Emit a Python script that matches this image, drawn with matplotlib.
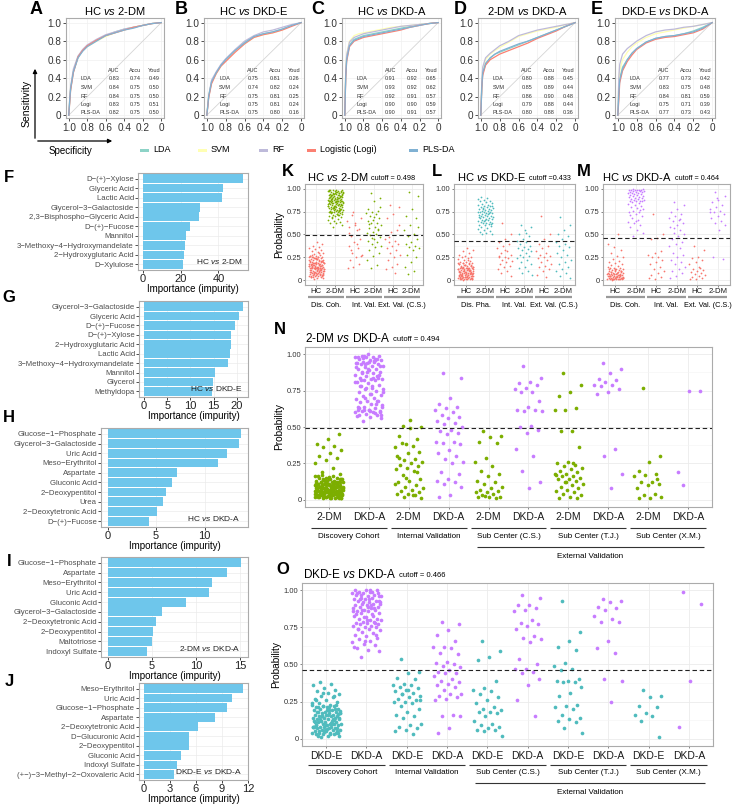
import numpy as np
import matplotlib
matplotlib.use("Agg")
import matplotlib.pyplot as plt
from matplotlib import transforms
from matplotlib.patches import Rectangle, FancyArrowPatch

plt.rcParams['font.family'] = ['Liberation Sans', 'DejaVu Sans']
plt.rcParams['mathtext.fontset'] = 'custom'
plt.rcParams['mathtext.rm'] = 'Liberation Sans'
plt.rcParams['mathtext.it'] = 'Liberation Sans:italic'

# --- ROC data (sensitivity read at fixed specificity values) ---
models = ["LDA", "SVM", "RF", "Logistic (Logi)", "PLS-DA"]
model_short = ["LDA", "SVM", "RF", "Logi", "PLS-DA"]
model_colors = ["#8DD3C7", "#FFFFB3", "#BEBADA", "#FB8072", "#80B1D3"]
spec_grid = [1.0, 0.99, 0.98, 0.95, 0.9, 0.85, 0.8, 0.7, 0.6, 0.5, 0.4, 0.3, 0.2, 0.1, 0.0]

roc_a = [[0, 0.15, 0.28, 0.47, 0.62, 0.70, 0.75, 0.81, 0.86, 0.90, 0.93, 0.95, 0.97, 0.99, 1.0],
         [0, 0.17, 0.30, 0.48, 0.63, 0.70, 0.74, 0.80, 0.85, 0.89, 0.92, 0.95, 0.97, 0.99, 1.0],
         [0, 0.18, 0.31, 0.50, 0.64, 0.71, 0.76, 0.82, 0.87, 0.90, 0.93, 0.95, 0.97, 0.99, 1.0],
         [0, 0.13, 0.27, 0.46, 0.63, 0.70, 0.75, 0.81, 0.86, 0.89, 0.92, 0.95, 0.97, 0.99, 1.0],
         [0, 0.16, 0.29, 0.47, 0.62, 0.69, 0.74, 0.80, 0.86, 0.89, 0.92, 0.94, 0.97, 0.99, 1.0]]
roc_b = [[0, 0.10, 0.20, 0.36, 0.46, 0.54, 0.60, 0.70, 0.79, 0.85, 0.88, 0.90, 0.93, 0.97, 1.0],
         [0, 0.12, 0.22, 0.35, 0.45, 0.53, 0.59, 0.69, 0.77, 0.84, 0.87, 0.89, 0.92, 0.97, 1.0],
         [0, 0.11, 0.21, 0.38, 0.47, 0.55, 0.61, 0.71, 0.80, 0.86, 0.90, 0.92, 0.95, 0.98, 1.0],
         [0, 0.09, 0.19, 0.34, 0.45, 0.53, 0.58, 0.68, 0.77, 0.84, 0.87, 0.89, 0.92, 0.96, 1.0],
         [0, 0.10, 0.21, 0.36, 0.46, 0.54, 0.60, 0.70, 0.78, 0.85, 0.88, 0.90, 0.93, 0.97, 1.0]]
roc_c = [[0, 0.45, 0.62, 0.76, 0.82, 0.84, 0.86, 0.88, 0.90, 0.92, 0.94, 0.96, 0.98, 0.99, 1.0],
         [0, 0.50, 0.66, 0.80, 0.86, 0.88, 0.89, 0.91, 0.93, 0.95, 0.96, 0.97, 0.98, 0.99, 1.0],
         [0, 0.48, 0.65, 0.79, 0.84, 0.86, 0.88, 0.90, 0.92, 0.94, 0.96, 0.97, 0.98, 0.99, 1.0],
         [0, 0.40, 0.58, 0.74, 0.80, 0.82, 0.84, 0.86, 0.88, 0.90, 0.92, 0.95, 0.97, 0.99, 1.0],
         [0, 0.42, 0.60, 0.75, 0.81, 0.83, 0.85, 0.87, 0.89, 0.91, 0.93, 0.95, 0.97, 0.99, 1.0]]
roc_d = [[0, 0.30, 0.45, 0.55, 0.62, 0.66, 0.68, 0.72, 0.76, 0.80, 0.84, 0.88, 0.92, 0.96, 1.0],
         [0, 0.35, 0.50, 0.60, 0.66, 0.70, 0.73, 0.79, 0.85, 0.88, 0.91, 0.93, 0.95, 0.98, 1.0],
         [0, 0.36, 0.52, 0.62, 0.67, 0.71, 0.75, 0.80, 0.86, 0.89, 0.92, 0.94, 0.96, 0.98, 1.0],
         [0, 0.28, 0.43, 0.54, 0.60, 0.63, 0.66, 0.70, 0.74, 0.78, 0.83, 0.87, 0.91, 0.96, 1.0],
         [0, 0.30, 0.46, 0.56, 0.62, 0.66, 0.69, 0.73, 0.77, 0.80, 0.84, 0.88, 0.92, 0.96, 1.0]]
roc_e = [[0, 0.25, 0.40, 0.52, 0.60, 0.67, 0.72, 0.79, 0.83, 0.85, 0.86, 0.88, 0.91, 0.95, 1.0],
         [0, 0.35, 0.48, 0.60, 0.68, 0.74, 0.78, 0.84, 0.88, 0.90, 0.92, 0.94, 0.96, 0.98, 1.0],
         [0, 0.40, 0.55, 0.66, 0.72, 0.76, 0.80, 0.86, 0.90, 0.92, 0.93, 0.95, 0.96, 0.98, 1.0],
         [0, 0.15, 0.35, 0.48, 0.58, 0.65, 0.71, 0.78, 0.82, 0.84, 0.85, 0.87, 0.89, 0.93, 1.0],
         [0, 0.22, 0.38, 0.50, 0.60, 0.67, 0.72, 0.79, 0.83, 0.85, 0.86, 0.88, 0.90, 0.94, 1.0]]

# AUC, Accu, Youd per model
metrics_a = [[0.83, 0.74, 0.49], [0.84, 0.75, 0.50], [0.84, 0.75, 0.50], [0.83, 0.75, 0.51], [0.82, 0.75, 0.50]]
metrics_b = [[0.75, 0.81, 0.26], [0.74, 0.82, 0.24], [0.75, 0.81, 0.25], [0.75, 0.81, 0.24], [0.75, 0.80, 0.16]]
metrics_c = [[0.91, 0.92, 0.65], [0.93, 0.92, 0.62], [0.92, 0.91, 0.57], [0.90, 0.90, 0.59], [0.90, 0.91, 0.57]]
metrics_d = [[0.80, 0.88, 0.45], [0.85, 0.89, 0.44], [0.86, 0.90, 0.48], [0.79, 0.88, 0.44], [0.80, 0.88, 0.36]]
metrics_e = [[0.77, 0.73, 0.42], [0.83, 0.75, 0.48], [0.84, 0.81, 0.59], [0.75, 0.71, 0.39], [0.77, 0.73, 0.43]]

# --- feature importance ---
feat_f = ["D\u2212(+)\u2212Xylose", "Glyceric Acid", "Lactic Acid", "Glycerol\u22123\u2212Galactoside",
          "2,3\u2212Bisphospho\u2212Glyceric Acid", "D\u2212(+)\u2212Fucose", "Mannitol",
          "3\u2212Methoxy\u22124\u2212Hydroxymandelate", "2\u2212Hydroxyglutaric Acid", "D\u2212Xylulose"]
imp_f = [53, 42.5, 42, 30, 29.5, 25, 23, 22.5, 21.5, 21]
feat_g = ["Glycerol\u22123\u2212Galactoside", "Glyceric Acid", "D\u2212(+)\u2212Fucose", "D\u2212(+)\u2212Xylose",
          "2\u2212Hydroxyglutaric Acid", "Lactic Acid", "3\u2212Methoxy\u22124\u2212Hydroxymandelate",
          "Mannitol", "Glycerol", "Methyldopa"]
imp_g = [21.3, 20.4, 19.6, 18.8, 18.7, 18.6, 18.1, 15.3, 14.8, 14.6]
feat_h = ["Glucose\u22121\u2212Phosphate", "Glycerol\u22123\u2212Galactoside", "Uric Acid", "Meso\u2212Erythritol",
          "Aspartate", "Gluconic Acid", "2\u2212Deoxypentitol", "Urea", "2\u2212Deoxytetronic Acid",
          "D\u2212(+)\u2212Fucose"]
imp_h = [13.8, 13.6, 12.3, 11.4, 7.2, 6.6, 6.0, 5.7, 5.1, 4.3]
feat_i = ["Glucose\u22121\u2212Phosphate", "Aspartate", "Meso\u2212Erythritol", "Uric Acid", "Gluconic Acid",
          "Glycerol\u22123\u2212Galactoside", "2\u2212Deoxytetronic Acid", "2\u2212Deoxypentitol",
          "Maltotriose", "Indoxyl Sulfate"]
imp_i = [15.1, 13.5, 11.8, 11.5, 8.8, 6.1, 5.5, 5.1, 5.0, 4.4]
feat_j = ["Meso\u2212Erythritol", "Uric Acid", "Glucose\u22121\u2212Phosphate", "Aspartate",
          "2\u2212Deoxytetronic Acid", "D\u2212Glucuronic Acid", "2\u2212Deoxypentitol", "Gluconic Acid",
          "Indoxyl Sulfate", "(+\u2212)\u22123\u2212Methyl\u22122\u2212Oxovaleric Acid"]
imp_j = [11.4, 10.2, 9.6, 8.2, 6.2, 5.2, 5.2, 4.3, 3.8, 3.5]

# --- predicted probabilities, K: HC vs 2-DM ---
k_cats = ["HC", "2-DM", "HC", "2-DM", "HC", "2-DM"]
k_groups_names = ["Dis. Coh.", "Int. Val.", "Ext. Val. (C.S.)"]
k1 = [0.02, 0.03, 0.03, 0.04, 0.04, 0.05, 0.05, 0.05, 0.06, 0.06, 0.06, 0.07, 0.07, 0.07, 0.08, 0.08, 0.08,
      0.09, 0.09, 0.09, 0.10, 0.10, 0.10, 0.11, 0.11, 0.11, 0.12, 0.12, 0.12, 0.13, 0.13, 0.13, 0.14, 0.14,
      0.14, 0.15, 0.15, 0.15, 0.16, 0.16, 0.16, 0.17, 0.17, 0.17, 0.18, 0.18, 0.18, 0.19, 0.19, 0.19, 0.20,
      0.20, 0.20, 0.21, 0.21, 0.22, 0.22, 0.23, 0.23, 0.24, 0.24, 0.25, 0.25, 0.26, 0.26, 0.27, 0.27, 0.28,
      0.29, 0.30, 0.31, 0.32, 0.33, 0.34, 0.35, 0.36, 0.38, 0.40, 0.42, 0.045, 0.065, 0.085, 0.105, 0.125,
      0.145, 0.165, 0.185, 0.205, 0.225, 0.245, 0.055, 0.075, 0.095, 0.115, 0.135, 0.155, 0.175, 0.195,
      0.215, 0.235, 0.035, 0.06, 0.09, 0.12, 0.15, 0.18, 0.21, 0.24, 0.27, 0.30, 0.04, 0.07, 0.10, 0.13,
      0.16, 0.19, 0.22, 0.25, 0.28, 0.05, 0.08, 0.11, 0.14, 0.17, 0.20, 0.23, 0.26, 0.12, 0.15, 0.18, 0.09,
      0.06, 0.21, 0.14, 0.17, 0.11, 0.08, 0.19, 0.13, 0.16]
k2 = [0.58, 0.60, 0.62, 0.63, 0.64, 0.65, 0.66, 0.67, 0.68, 0.69, 0.70, 0.70, 0.71, 0.71, 0.72, 0.72, 0.73,
      0.73, 0.74, 0.74, 0.75, 0.75, 0.75, 0.76, 0.76, 0.76, 0.77, 0.77, 0.77, 0.78, 0.78, 0.78, 0.79, 0.79,
      0.79, 0.80, 0.80, 0.80, 0.81, 0.81, 0.81, 0.82, 0.82, 0.82, 0.83, 0.83, 0.83, 0.84, 0.84, 0.84, 0.85,
      0.85, 0.85, 0.86, 0.86, 0.86, 0.87, 0.87, 0.87, 0.88, 0.88, 0.88, 0.89, 0.89, 0.89, 0.90, 0.90, 0.90,
      0.91, 0.91, 0.91, 0.92, 0.92, 0.92, 0.93, 0.93, 0.93, 0.94, 0.94, 0.94, 0.95, 0.95, 0.95, 0.96, 0.96,
      0.96, 0.97, 0.97, 0.97, 0.98, 0.98, 0.99, 0.99, 0.765, 0.785, 0.805, 0.825, 0.845, 0.865, 0.885, 0.905,
      0.925, 0.945, 0.965, 0.72, 0.75, 0.78, 0.81, 0.84, 0.87, 0.90, 0.93, 0.96, 0.74, 0.77, 0.80, 0.83,
      0.86, 0.89, 0.92, 0.95, 0.98, 0.76, 0.79, 0.82, 0.85, 0.88, 0.91, 0.94, 0.97, 0.71, 0.69, 0.83, 0.87,
      0.91, 0.95, 0.79, 0.85, 0.89, 0.93, 0.97, 0.81, 0.86, 0.90]
k3 = [0.71, 0.68, 0.62, 0.58, 0.56, 0.75, 0.65, 0.55, 0.48, 0.45, 0.42, 0.38, 0.35, 0.30, 0.28, 0.25, 0.22,
      0.18, 0.15, 0.14, 0.40, 0.33, 0.27, 0.60, 0.52]
k4 = [0.95, 0.90, 0.86, 0.78, 0.76, 0.75, 0.73, 0.72, 0.70, 0.68, 0.66, 0.65, 0.63, 0.62, 0.60, 0.58, 0.57,
      0.55, 0.53, 0.52, 0.50, 0.49, 0.47, 0.45, 0.43, 0.42, 0.40, 0.38, 0.36, 0.33, 0.30, 0.27, 0.22, 0.17,
      0.13, 0.80, 0.69, 0.61, 0.56, 0.46]
k5 = [0.82, 0.80, 0.72, 0.68, 0.55, 0.53, 0.45, 0.43, 0.42, 0.40, 0.38, 0.35, 0.33, 0.30, 0.28, 0.25, 0.22,
      0.18, 0.15, 0.12, 0.08, 0.47, 0.60]
k6 = [0.96, 0.92, 0.78, 0.70, 0.68, 0.60, 0.55, 0.50, 0.48, 0.45, 0.42, 0.40, 0.38, 0.36, 0.35, 0.33, 0.28,
      0.25, 0.20, 0.15, 0.10, 0.07, 0.58]

# --- L: HC vs DKD-E ---
l_groups_names = ["Dis. Pha.", "Int. Val.", "Ext. Val. (C.S.)"]
l1 = [0.00, 0.01, 0.01, 0.02, 0.02, 0.02, 0.03, 0.03, 0.03, 0.03, 0.04, 0.04, 0.04, 0.04, 0.05, 0.05, 0.05,
      0.05, 0.06, 0.06, 0.06, 0.06, 0.07, 0.07, 0.07, 0.07, 0.08, 0.08, 0.08, 0.08, 0.09, 0.09, 0.09, 0.10,
      0.10, 0.10, 0.11, 0.11, 0.11, 0.12, 0.12, 0.12, 0.13, 0.13, 0.13, 0.14, 0.14, 0.15, 0.15, 0.16, 0.16,
      0.17, 0.17, 0.18, 0.18, 0.19, 0.19, 0.20, 0.20, 0.21, 0.22, 0.23, 0.24, 0.25, 0.26, 0.27, 0.28, 0.30,
      0.32, 0.33, 0.35, 0.015, 0.025, 0.035, 0.045, 0.055, 0.065, 0.075, 0.085, 0.095, 0.105, 0.115, 0.125,
      0.135, 0.145, 0.155, 0.165, 0.175, 0.185, 0.195, 0.02, 0.04, 0.06, 0.08, 0.10, 0.12, 0.14, 0.03, 0.05,
      0.07, 0.09, 0.11, 0.13, 0.15, 0.01, 0.06, 0.08, 0.04, 0.10, 0.12, 0.05, 0.07, 0.09, 0.03, 0.11, 0.17,
      0.19, 0.22, 0.14, 0.16]
l2 = [0.50, 0.51, 0.52, 0.53, 0.54, 0.55, 0.56, 0.57, 0.58, 0.59, 0.60, 0.60, 0.61, 0.62, 0.62, 0.63, 0.64,
      0.64, 0.65, 0.65, 0.66, 0.66, 0.67, 0.67, 0.68, 0.68, 0.69, 0.69, 0.70, 0.70, 0.70, 0.71, 0.71, 0.72,
      0.72, 0.73, 0.73, 0.74, 0.74, 0.75, 0.75, 0.76, 0.76, 0.77, 0.77, 0.78, 0.78, 0.79, 0.79, 0.80, 0.80,
      0.81, 0.81, 0.82, 0.82, 0.83, 0.84, 0.85, 0.86, 0.87, 0.88, 0.89, 0.90, 0.91, 0.615, 0.655, 0.695,
      0.735, 0.775, 0.815]
l3 = [0.62, 0.50, 0.45, 0.42, 0.40, 0.38, 0.35, 0.32, 0.30, 0.28, 0.26, 0.25, 0.24, 0.22, 0.21, 0.20, 0.18,
      0.16, 0.15, 0.12, 0.10, 0.08, 0.05, 0.33, 0.27]
l4 = [0.60, 0.58, 0.55, 0.50, 0.48, 0.45, 0.43, 0.42, 0.40, 0.38, 0.36, 0.35, 0.34, 0.33, 0.32, 0.30, 0.28,
      0.27, 0.25, 0.24, 0.22, 0.20, 0.18, 0.15, 0.13, 0.10, 0.08, 0.06, 0.52]
l5 = [0.70, 0.50, 0.45, 0.40, 0.38, 0.35, 0.32, 0.30, 0.28, 0.27, 0.25, 0.24, 0.22, 0.20, 0.18, 0.16, 0.15,
      0.12, 0.10, 0.06, 0.04]
l6 = [0.69, 0.60, 0.55, 0.50, 0.48, 0.45, 0.42, 0.40, 0.38, 0.36, 0.33, 0.30, 0.28, 0.25, 0.22, 0.20, 0.18,
      0.15, 0.12, 0.10, 0.08, 0.05, 0.03]

# --- M: HC vs DKD-A ---
m_groups_names = ["Dis. Coh.", "Int. Val.", "Ext. Val. (C.S.)"]
m1 = [0.00, 0.01, 0.01, 0.01, 0.02, 0.02, 0.02, 0.02, 0.03, 0.03, 0.03, 0.03, 0.04, 0.04, 0.04, 0.04, 0.05,
      0.05, 0.05, 0.05, 0.06, 0.06, 0.06, 0.07, 0.07, 0.07, 0.08, 0.08, 0.08, 0.09, 0.09, 0.10, 0.10, 0.11,
      0.11, 0.12, 0.12, 0.13, 0.13, 0.14, 0.15, 0.16, 0.17, 0.18, 0.19, 0.20, 0.21, 0.23, 0.25, 0.27, 0.30,
      0.33, 0.36, 0.40, 0.50, 0.015, 0.025, 0.035, 0.045, 0.055, 0.065, 0.075, 0.085, 0.095, 0.105, 0.115,
      0.125, 0.01, 0.02, 0.03, 0.04, 0.05, 0.06, 0.07, 0.08, 0.09, 0.02, 0.03, 0.04, 0.05, 0.06, 0.01, 0.03,
      0.05, 0.07, 0.10, 0.12]
m2 = [0.48, 0.52, 0.55, 0.58, 0.60, 0.62, 0.64, 0.66, 0.68, 0.70, 0.72, 0.74, 0.75, 0.76, 0.78, 0.79, 0.80,
      0.81, 0.82, 0.83, 0.84, 0.85, 0.86, 0.86, 0.87, 0.87, 0.88, 0.88, 0.89, 0.89, 0.90, 0.90, 0.91, 0.91,
      0.92, 0.92, 0.93, 0.93, 0.94, 0.94, 0.95, 0.95, 0.95, 0.96, 0.96, 0.96, 0.97, 0.97, 0.97, 0.98, 0.98,
      0.98, 0.99, 0.99, 0.99, 1.00, 1.00, 0.65, 0.71, 0.77]
m3 = [0.72, 0.50, 0.46, 0.45, 0.32, 0.30, 0.28, 0.26, 0.25, 0.22, 0.20, 0.18, 0.15, 0.12, 0.10, 0.08, 0.06,
      0.04, 0.02, 0.03]
m4 = [0.85, 0.82, 0.78, 0.75, 0.72, 0.70, 0.68, 0.66, 0.65, 0.62, 0.60, 0.58, 0.55, 0.52, 0.50, 0.48, 0.45,
      0.42, 0.40, 0.38, 0.35, 0.30, 0.28, 0.25, 0.22, 0.20, 0.18, 0.15, 0.12, 0.10, 0.08, 0.05, 0.03, 0.67,
      0.57]
m5 = [0.37, 0.33, 0.25, 0.24, 0.22, 0.20, 0.18, 0.15, 0.12, 0.11, 0.10, 0.09, 0.08, 0.07, 0.06, 0.05, 0.04,
      0.03, 0.02, 0.01, 0.13]
m6 = [0.96, 0.92, 0.88, 0.85, 0.82, 0.80, 0.78, 0.76, 0.75, 0.72, 0.70, 0.68, 0.65, 0.62, 0.60, 0.55, 0.25,
      0.23, 0.90, 0.74]

# --- N: 2-DM vs DKD-A ---
n_cats = ["2-DM", "DKD-A"] * 5
big_groups_names = ["Discovery Cohort", "Internal Validation", "Sub Center (C.S.)",
                    "Sub Center (T.J.)", "Sub Center (X.M.)"]
n1 = [0.01, 0.01, 0.01, 0.02, 0.02, 0.02, 0.02, 0.03, 0.03, 0.03, 0.03, 0.03, 0.04, 0.04, 0.04, 0.04, 0.04,
      0.05, 0.05, 0.05, 0.05, 0.05, 0.06, 0.06, 0.06, 0.06, 0.06, 0.07, 0.07, 0.07, 0.07, 0.07, 0.08, 0.08,
      0.08, 0.08, 0.09, 0.09, 0.09, 0.09, 0.10, 0.10, 0.10, 0.10, 0.11, 0.11, 0.11, 0.11, 0.12, 0.12, 0.12,
      0.12, 0.13, 0.13, 0.13, 0.14, 0.14, 0.14, 0.15, 0.15, 0.15, 0.16, 0.16, 0.17, 0.015, 0.025, 0.035,
      0.045, 0.055, 0.065, 0.075, 0.085, 0.095, 0.105, 0.115, 0.125, 0.135, 0.145, 0.155, 0.02, 0.04, 0.06,
      0.08, 0.10, 0.12, 0.03, 0.05, 0.07, 0.09, 0.11, 0.01, 0.02, 0.03, 0.04, 0.05, 0.06, 0.07, 0.08, 0.09,
      0.10, 0.11, 0.12, 0.13, 0.14, 0.015, 0.035, 0.055, 0.075, 0.095, 0.115, 0.025, 0.045, 0.065, 0.085,
      0.105, 0.02, 0.04, 0.06, 0.08, 0.03, 0.05, 0.07, 0.01, 0.02, 0.03, 0.04, 0.05, 0.06, 0.07, 0.08, 0.09,
      0.10, 0.12, 0.14, 0.16, 0.045, 0.065, 0.085, 0.035, 0.055,
      0.45, 0.42, 0.38, 0.37, 0.36, 0.34, 0.32, 0.30, 0.29, 0.27, 0.25, 0.22, 0.19, 0.18]
n2 = [0.54, 0.56, 0.57, 0.58, 0.58, 0.59, 0.60, 0.60, 0.61, 0.61, 0.62, 0.62, 0.63, 0.64, 0.65, 0.66, 0.67,
      0.68, 0.68, 0.69, 0.70, 0.71, 0.72, 0.73, 0.74, 0.75, 0.76, 0.76, 0.77, 0.78, 0.79, 0.80, 0.81, 0.82,
      0.82, 0.83, 0.83, 0.84, 0.85, 0.85, 0.86, 0.87, 0.87, 0.88, 0.89, 0.90, 0.90, 0.91, 0.92, 0.92, 0.93,
      0.93, 0.94, 0.94, 0.95, 0.95, 0.96, 0.96, 0.97, 0.97, 0.98, 0.98, 0.98, 0.99, 0.99, 1.00, 0.575, 0.595,
      0.615, 0.635, 0.725, 0.785, 0.835, 0.875, 0.915, 0.955, 0.975, 0.60, 0.62, 0.64, 0.66, 0.70, 0.74,
      0.78, 0.82, 0.86, 0.90, 0.94, 0.97, 0.99, 0.58, 0.61, 0.63, 0.68, 0.77, 0.81, 0.84, 0.88, 0.92, 0.95,
      0.98, 0.96, 0.93]
n3 = [0.51, 0.50, 0.55, 0.44, 0.42, 0.38, 0.36, 0.37, 0.39, 0.33, 0.32, 0.30, 0.28, 0.27, 0.26, 0.25, 0.24,
      0.23, 0.22, 0.21, 0.20, 0.17, 0.14, 0.13, 0.12, 0.10, 0.09, 0.08, 0.07, 0.06, 0.05, 0.04, 0.04, 0.03,
      0.02, 0.01, 0.49, 0.29, 0.19, 0.15, 0.11, 0.035]
n4 = [0.87, 0.84, 0.70, 0.66, 0.64, 0.63, 0.62, 0.60, 0.58, 0.57, 0.56, 0.54, 0.53, 0.52, 0.50, 0.48, 0.47,
      0.46, 0.45, 0.40, 0.40, 0.39, 0.38, 0.34, 0.32, 0.30, 0.28, 0.26, 0.25, 0.19, 0.18, 0.14, 0.13, 0.12,
      0.11, 0.09, 0.03, 0.02]
n5 = [0.47, 0.44, 0.43, 0.40, 0.39, 0.29, 0.26, 0.23, 0.20, 0.18, 0.16, 0.13, 0.12, 0.11, 0.09, 0.08, 0.07,
      0.06, 0.05, 0.05, 0.04, 0.03, 0.02, 0.02, 0.02, 0.015, 0.025]
n6 = [0.92, 0.84, 0.81, 0.80, 0.79, 0.77, 0.76, 0.74, 0.74, 0.68, 0.64, 0.62, 0.62, 0.61, 0.61, 0.51, 0.50,
      0.48, 0.46, 0.35, 0.30, 0.20, 0.12, 0.08]
n7 = [0.87, 0.79, 0.74, 0.71, 0.63, 0.62, 0.62, 0.47, 0.47, 0.36, 0.26, 0.25, 0.24, 0.23, 0.22, 0.21, 0.20,
      0.19, 0.18, 0.17, 0.16, 0.16, 0.15, 0.14, 0.14, 0.13, 0.12, 0.11, 0.10, 0.09, 0.08, 0.07, 0.06, 0.05,
      0.04, 0.03, 0.02, 0.01, 0.01, 0.12, 0.18, 0.25]
n8 = [0.94, 0.90, 0.87, 0.83, 0.82, 0.81, 0.79, 0.79, 0.78, 0.76, 0.74, 0.73, 0.35, 0.30, 0.18, 0.08]
n9 = [0.77, 0.30, 0.26, 0.20, 0.18, 0.17, 0.16, 0.12, 0.12, 0.11, 0.10, 0.08, 0.04, 0.03, 0.02, 0.01, 0.01,
      0.14]
n10 = [0.10, 0.75, 0.75, 0.19]

# --- O: DKD-E vs DKD-A ---
o_cats = ["DKD-E", "DKD-A"] * 5
o1 = [0.01, 0.02, 0.02, 0.03, 0.03, 0.03, 0.04, 0.04, 0.04, 0.05, 0.05, 0.05, 0.06, 0.06, 0.06, 0.07, 0.07,
      0.07, 0.08, 0.08, 0.08, 0.08, 0.09, 0.09, 0.09, 0.10, 0.10, 0.10, 0.10, 0.11, 0.11, 0.11, 0.12, 0.12,
      0.12, 0.13, 0.13, 0.13, 0.14, 0.14, 0.14, 0.15, 0.15, 0.15, 0.16, 0.16, 0.16, 0.17, 0.17, 0.17, 0.18,
      0.18, 0.18, 0.19, 0.19, 0.20, 0.20, 0.21, 0.21, 0.22, 0.22, 0.23, 0.23, 0.24, 0.25, 0.26, 0.27, 0.28,
      0.29, 0.30, 0.31, 0.32, 0.33, 0.34, 0.36, 0.37, 0.38, 0.035, 0.065, 0.095, 0.125, 0.155, 0.185, 0.215,
      0.02, 0.04, 0.06, 0.08, 0.10, 0.12, 0.14, 0.16, 0.18, 0.20, 0.22, 0.24, 0.03, 0.05, 0.07, 0.09, 0.11,
      0.13, 0.15, 0.17, 0.19, 0.21, 0.23, 0.045, 0.075, 0.105, 0.135, 0.165, 0.195, 0.26, 0.29, 0.31]
o2 = [0.55, 0.59, 0.60, 0.61, 0.63, 0.64, 0.65, 0.66, 0.67, 0.68, 0.69, 0.70, 0.71, 0.72, 0.73, 0.74, 0.74,
      0.75, 0.75, 0.76, 0.76, 0.77, 0.77, 0.78, 0.78, 0.79, 0.79, 0.80, 0.80, 0.81, 0.81, 0.82, 0.83, 0.84,
      0.85, 0.85, 0.86, 0.86, 0.87, 0.87, 0.88, 0.88, 0.89, 0.89, 0.90, 0.90, 0.91, 0.91, 0.92, 0.92, 0.93,
      0.93, 0.94, 0.94, 0.95, 0.95, 0.96, 0.96, 0.97, 0.97, 0.98, 0.98, 0.99, 0.99, 1.00, 1.00, 1.00, 0.825,
      0.865, 0.905, 0.945, 0.985, 0.78, 0.82, 0.86, 0.90, 0.94, 0.98, 0.80, 0.84, 0.88, 0.92, 0.96, 1.00,
      0.74, 0.70, 0.66, 0.62, 0.99, 0.97, 0.93, 0.89]
o3 = [0.54, 0.45, 0.44, 0.41, 0.40, 0.37, 0.36, 0.36, 0.35, 0.34, 0.33, 0.32, 0.31, 0.30, 0.29, 0.28, 0.27,
      0.26, 0.25, 0.25, 0.24, 0.22, 0.20, 0.18, 0.16, 0.15, 0.14, 0.10, 0.09, 0.08, 0.07, 0.06, 0.05, 0.03,
      0.30, 0.26, 0.33]
o4 = [0.79, 0.77, 0.73, 0.70, 0.66, 0.62, 0.62, 0.61, 0.58, 0.57, 0.52, 0.51, 0.50, 0.49, 0.48, 0.46, 0.45,
      0.44, 0.44, 0.42, 0.40, 0.39, 0.38, 0.37, 0.36, 0.35, 0.33, 0.30, 0.30, 0.29, 0.28, 0.27, 0.26, 0.16,
      0.15, 0.15, 0.07, 0.04]
o5 = [0.66, 0.59, 0.55, 0.53, 0.39, 0.34, 0.33, 0.32, 0.30, 0.28, 0.26, 0.24, 0.21, 0.20, 0.19, 0.18, 0.18,
      0.17, 0.15, 0.12, 0.10, 0.09, 0.08, 0.07, 0.06, 0.06, 0.05, 0.02]
o6 = [0.97, 0.95, 0.90, 0.90, 0.88, 0.87, 0.86, 0.80, 0.78, 0.77, 0.76, 0.74, 0.69, 0.68, 0.67, 0.65, 0.54,
      0.50, 0.47, 0.47, 0.45, 0.44, 0.40, 0.36, 0.26, 0.15]
o7 = [0.93, 0.72, 0.66, 0.62, 0.60, 0.51, 0.49, 0.47, 0.46, 0.40, 0.39, 0.39, 0.38, 0.38, 0.35, 0.31, 0.29,
      0.23, 0.22, 0.21, 0.20, 0.16, 0.14, 0.13, 0.12, 0.11, 0.07, 0.04]
o8 = [0.94, 0.93, 0.92, 0.89, 0.88, 0.87, 0.83, 0.81, 0.79, 0.79, 0.66, 0.61, 0.58, 0.40, 0.39, 0.25]
o9 = [0.33, 0.29, 0.28, 0.22, 0.21, 0.17, 0.16, 0.15, 0.12, 0.01]
o10 = [0.99, 0.91, 0.39, 0.08]

C_HC, C_DM, C_DKDE, C_DKDA = "#F8766D", "#7CAE00", "#4FBBBD", "#C77CFF"
BAR_COLOR = "#6EC6EB"
BORDER = "#ABABAB"
GRID = "#EBEBEB"

W, H = 740, 806
fig = plt.figure(figsize=(W / 100, H / 100), dpi=100)


def fx(x):
    return x / W


def fy(y):
    return 1 - y / H


def px_axes(x0, y0, x1, y1):
    return fig.add_axes([x0 / W, 1 - y1 / H, (x1 - x0) / W, (y1 - y0) / H])


def style_frame(ax):
    for s in ax.spines.values():
        s.set_color(BORDER)
        s.set_linewidth(0.8)
    ax.set_axisbelow(True)


def letter(x, y, s, size=12):
    fig.text(fx(x), fy(y), s, fontsize=size, fontweight='bold', ha='center', va='center')


def vs_title(a, b):
    return a + r" $\mathit{vs}$ " + b


def jitter(n, width):
    # deterministic spread of points inside a category column
    return ((np.arange(n) * 0.6180339887 + 0.31) % 1.0 - 0.5) * 2 * width


# ---------------- ROC panels ----------------
def roc_panel(box, curves, metrics, title):
    ax = px_axes(*box)
    ax.plot([1, 0], [0, 1], color='#D5D5D5', lw=0.6, zorder=1)
    for sens, col in zip(curves, model_colors):
        ax.plot(spec_grid, sens, color=col, lw=0.9, zorder=2)
    ticks = [1.0, 0.8, 0.6, 0.4, 0.2, 0.0]
    labs = ['1.0', '0.8', '0.6', '0.4', '0.2', '0']
    ax.set_xlim(1.03, -0.03)
    ax.set_ylim(-0.03, 1.05)
    ax.set_xticks(ticks)
    ax.set_xticklabels(labs)
    ax.set_yticks(ticks)
    ax.set_yticklabels(labs)
    ax.tick_params(labelsize=7.2, length=2, width=0.6, pad=1.5, colors='#333333')
    ax.grid(color='#F0F0F0', lw=0.5)
    style_frame(ax)
    cols = [0.49, 0.71, 0.90]
    for c, h in zip(cols, ["AUC", "Accu", "Youd"]):
        ax.text(c, 0.47, h, ha='center', va='center', fontsize=4, color='#333333', transform=ax.transAxes)
    for r, (name, vals) in enumerate(zip(model_short, metrics)):
        yy = 0.39 - r * 0.085
        ax.text(0.15, yy, name, ha='left', va='center', fontsize=4, color='#333333', transform=ax.transAxes)
        for c, v in zip(cols, vals):
            ax.text(c, yy, f"{v:.2f}", ha='center', va='center', fontsize=4, color='#333333',
                    transform=ax.transAxes)
    fig.text(fx((box[0] + box[2]) / 2), fy(11), title, ha='center', va='center', fontsize=8)
    return ax


roc_panel((66, 18, 164, 118), roc_a, metrics_a, vs_title("HC", "2-DM"))
roc_panel((204, 18, 304, 118), roc_b, metrics_b, vs_title("HC", "DKD-E"))
roc_panel((342, 18, 441, 118), roc_c, metrics_c, vs_title("HC", "DKD-A"))
roc_panel((478, 18, 578, 118), roc_d, metrics_d, vs_title("2-DM", "DKD-A"))
roc_panel((615, 18, 715, 118), roc_e, metrics_e, vs_title("DKD-E", "DKD-A"))
for lx, s in zip([36, 181, 318, 460, 597], "ABCDE"):
    letter(lx, 9, s, 13)

# axis arrows
fig.add_artist(FancyArrowPatch((fx(35), fy(141)), (fx(35), fy(66)), transform=fig.transFigure,
                               arrowstyle='-|>', mutation_scale=6, lw=0.9, color='black'))
fig.add_artist(FancyArrowPatch((fx(35), fy(141)), (fx(115), fy(141)), transform=fig.transFigure,
                               arrowstyle='-|>', mutation_scale=6, lw=0.9, color='black'))
fig.text(fx(27), fy(103), "Sensitivity", rotation=90, ha='center', va='center', fontsize=7.5)
fig.text(fx(70), fy(151), "Specificity", ha='center', va='center', fontsize=7)

# legend
leg_x = [140, 198, 259, 307, 409]
for lx, name, col in zip(leg_x, models, model_colors):
    fig.add_artist(Rectangle((fx(lx), fy(151.5)), 9 / W, 3 / H, transform=fig.transFigure,
                             facecolor=col, edgecolor='none'))
    fig.text(fx(lx + 13), fy(150), name, ha='left', va='center', fontsize=6.5)


# ---------------- importance bar panels ----------------
def bar_panel(box, names, values, ticks, label, right=None):
    ax = px_axes(*box)
    y = np.arange(len(names))[::-1]
    ax.barh(y, values, height=0.9, color=BAR_COLOR, zorder=2)
    ax.set_yticks(y)
    ax.set_yticklabels(names, fontsize=5.6, color='#4D4D4D')
    ax.set_ylim(-0.6, len(names) - 0.4)
    vmax = max(values)
    ax.set_xlim(-0.05 * vmax, right if right else 1.05 * vmax)
    ax.set_xticks(ticks)
    ax.set_xticklabels([str(t) for t in ticks])
    ax.tick_params(axis='x', labelsize=8, length=2, width=0.6, pad=1, colors='#222222')
    ax.tick_params(axis='y', length=2, width=0.6, pad=1, color='#333333')
    ax.set_xlabel("Importance (impurity)", fontsize=7, labelpad=0)
    ax.grid(axis='both', color=GRID, lw=0.5)
    style_frame(ax)
    ax.text(0.95, 0.04, label, transform=ax.transAxes, ha='right', va='bottom', fontsize=6, color='#222222',
            zorder=4)
    return ax


bar_panel((138, 173, 248, 270), feat_f, imp_f, [0, 20, 40], vs_title("HC", "2-DM"))
bar_panel((139, 301, 248, 397), feat_g, imp_g, [0, 5, 10, 15, 20], vs_title("HC", "DKD-E"))
bar_panel((101, 428, 248, 527), feat_h, imp_h, [0, 5, 10], vs_title("HC", "DKD-A"))
bar_panel((101, 557, 248, 657), feat_i, imp_i, [0, 5, 10, 15], vs_title("2-DM", "DKD-A"))
bar_panel((139, 683, 248, 780), feat_j, imp_j, [0, 3, 6, 9, 12], vs_title("DKD-E", "DKD-A"), right=12.0)
for ly, s in zip([178, 297, 418, 562, 681], "FGHIJ"):
    letter(9, ly, s, 12)


# ---------------- probability strip panels ----------------
def strip_panel(box, groups, colors, cats, cutoff, width, size, ylabel, cat_fs):
    ax = px_axes(*box)
    for i, (vals, col) in enumerate(zip(groups, colors)):
        xs = i + 1 + jitter(len(vals), width)
        ax.scatter(xs, vals, s=size, color=col, linewidths=0, zorder=3)
    ax.axhline(cutoff, color='#222222', lw=0.8, ls=(0, (4, 2.5)), zorder=4)
    ax.set_xlim(0.4, len(groups) + 0.6)
    ax.set_ylim(-0.05, 1.05)
    ax.set_xticks(np.arange(1, len(groups) + 1))
    ax.set_xticklabels(cats, fontsize=cat_fs, color='#1A1A1A')
    ax.set_yticks([0, 0.25, 0.5, 0.75, 1.0])
    ax.set_yticklabels(['0', '0.25', '0.50', '0.75', '1.00'], fontsize=5.5, color='#333333')
    ax.set_yticks([0.125, 0.375, 0.625, 0.875], minor=True)
    ax.tick_params(length=1.5, width=0.5, pad=1, color='#555555')
    ax.tick_params(which='minor', length=0)
    ax.grid(which='major', color=GRID, lw=0.6)
    ax.grid(which='minor', axis='y', color='#F4F4F4', lw=0.4)
    style_frame(ax)
    if ylabel:
        ax.set_ylabel("Probability", fontsize=7.3, labelpad=2)
    return ax


def strip_title(ax, x, y, title, cutoff_text, fs, cfs):
    t = fig.text(fx(x), fy(y), title, ha='left', va='center', fontsize=fs)
    ax.annotate(cutoff_text, xy=(1, 0.1), xycoords=t, xytext=(2, 0), textcoords='offset points',
                ha='left', va='bottom', fontsize=cfs)


def group_marks(ax, spans, names, y_line, y_text, lw, color, fs):
    tr = transforms.blended_transform_factory(ax.transData, fig.transFigure)
    for (a, b), name in zip(spans, names):
        ax.plot([a, b], [fy(y_line)] * 2, transform=tr, clip_on=False, color=color, lw=lw,
                solid_capstyle='butt')
        ax.text((a + b) / 2, fy(y_text), name, transform=tr, ha='center', va='center', fontsize=fs)


small_spans = [(0.55, 2.45), (2.55, 4.45), (4.55, 6.45)]

ax_k = strip_panel((305, 184, 423, 285), [k1, k2, k3, k4, k5, k6], [C_HC, C_DM] * 3, k_cats, 0.498,
                   0.4, 1.6, True, 5.6)
strip_title(ax_k, 307, 177, vs_title("HC", "2-DM"), "cutoff = 0.498", 8, 5.2)
group_marks(ax_k, small_spans, k_groups_names, 297, 305, 1.6, '#9A9A9A', 5.3)

ax_l = strip_panel((454, 184, 575, 285), [l1, l2, l3, l4, l5, l6], [C_HC, C_DKDE] * 3, k_cats, 0.433,
                   0.4, 1.6, False, 5.6)
strip_title(ax_l, 457, 177, vs_title("HC", "DKD-E"), "cutoff =0.433", 8, 5.2)
group_marks(ax_l, small_spans, l_groups_names, 297, 305, 1.6, '#9A9A9A', 5.3)

ax_m = strip_panel((603, 184, 730, 285), [m1, m2, m3, m4, m5, m6], [C_HC, C_DKDA] * 3, k_cats, 0.464,
                   0.4, 1.6, False, 5.6)
strip_title(ax_m, 602, 177, vs_title("HC", "DKD-A"), "cutoff = 0.464", 8, 5.2)
group_marks(ax_m, small_spans, m_groups_names, 297, 305, 1.6, '#9A9A9A', 5.3)

letter(288, 172, "K", 12)
letter(437, 172, "L", 12)
letter(584, 172, "M", 12)

big_spans = [(0.55, 2.45), (2.55, 4.45), (4.55, 6.45), (6.55, 8.45), (8.55, 10.45)]

ax_n = strip_panel((305, 347, 712, 507), [n1, n2, n3, n4, n5, n6, n7, n8, n9, n10],
                   [C_DM, C_DKDA] * 5, n_cats, 0.494, 0.36, 7, True, 7.5)
ax_n.tick_params(axis='x', pad=2)
strip_title(ax_n, 305, 338, vs_title("2-DM", "DKD-A"), "cutoff = 0.494", 8.5, 5.5)
group_marks(ax_n, big_spans, big_groups_names, 528, 536, 0.8, '#333333', 5.8)
group_marks(ax_n, [(4.7, 10.4)], ["External Validation"], 547, 556, 0.8, '#333333', 5.8)
letter(280, 330, "N", 12)

ax_o = strip_panel((302, 583, 713, 746), [o1, o2, o3, o4, o5, o6, o7, o8, o9, o10],
                   [C_DKDE, C_DKDA] * 5, o_cats, 0.466, 0.36, 7, True, 7.5)
ax_o.tick_params(axis='x', pad=2)
strip_title(ax_o, 303, 574, vs_title("DKD-E", "DKD-A"), "cutoff = 0.466", 8.5, 5.5)
group_marks(ax_o, big_spans, big_groups_names, 765, 772, 0.8, '#333333', 5.8)
group_marks(ax_o, [(4.7, 10.4)], ["External Validation"], 783, 792, 0.8, '#333333', 5.8)
letter(283, 569, "O", 12)

fig.savefig("out.png", dpi=100)
